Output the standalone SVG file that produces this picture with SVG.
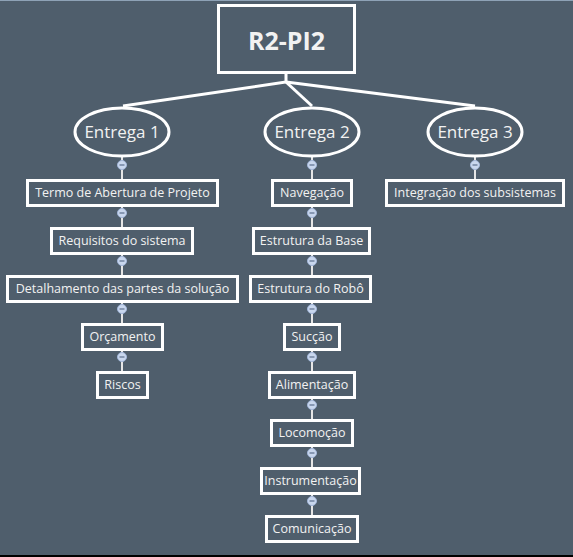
<svg xmlns="http://www.w3.org/2000/svg" width="573" height="557" viewBox="0 0 573 557">
<style>
.bg{fill:#4f5e6c}
.box{fill:#4f5e6c;stroke:#ffffff;stroke-width:3}
.ell{fill:#4f5e6c;stroke:#ffffff;stroke-width:3}
.t{font-family:"Open Sans","Noto Sans","DejaVu Sans",sans-serif;font-size:12.5px;fill:#f2f2f2;text-anchor:middle}
.e{font-family:"Open Sans","Noto Sans","DejaVu Sans",sans-serif;font-size:17px;fill:#f2f2f2;text-anchor:middle}
.root{font-family:"Open Sans","Noto Sans","DejaVu Sans",sans-serif;font-size:25px;font-weight:bold;fill:#f2f2f2;text-anchor:middle}
.main{fill:none;stroke:#ffffff;stroke-width:3}
.sub{fill:none;stroke:#e6e6e6;stroke-width:2}
.tog{fill:#c9d7ee;stroke:#a3b7da;stroke-width:1}
.minus{stroke:#5d6f8e;stroke-width:1.2}
</style>
<defs>
<g id="toggle"><circle class="tog" cx="0" cy="0" r="4.5"/><line class="minus" x1="-2.5" y1="0" x2="2.5" y2="0"/></g>
</defs>
<rect class="bg" x="0" y="0" width="573" height="557"/>
<rect x="0" y="0" width="573" height="1" fill="#8ea2b6"/>
<rect x="0" y="555" width="573" height="2" fill="#000000"/>

<g id="connectors">
<polyline class="main" points="286,72 286,82 123,106"/>
<polyline class="main" points="286,82 312,106"/>
<polyline class="main" points="286,82 475,106"/>
<line class="sub" x1="122" y1="156" x2="122" y2="372"/>
<line class="sub" x1="312" y1="156" x2="312" y2="516"/>
<line class="sub" x1="475" y1="156" x2="475" y2="180"/>
</g>

<g id="root"><rect class="box" x="218.5" y="5.5" width="136" height="67"/><text class="root" x="286.5" y="50">R2-PI2</text></g>

<g id="entrega1"><ellipse class="ell" cx="122" cy="132" rx="47" ry="24"/><text class="e" x="122" y="138">Entrega 1</text></g>
<g id="entrega2"><ellipse class="ell" cx="312" cy="132" rx="47" ry="24"/><text class="e" x="312" y="138">Entrega 2</text></g>
<g id="entrega3"><ellipse class="ell" cx="475" cy="132" rx="47" ry="24"/><text class="e" x="475" y="138">Entrega 3</text></g>

<g id="termo"><rect class="box" x="27.5" y="180.5" width="190" height="25"/><text class="t" x="122.5" y="197">Termo de Abertura de Projeto</text></g>
<g id="requisitos"><rect class="box" x="51.5" y="228.5" width="141" height="25"/><text class="t" x="122" y="245">Requisitos do sistema</text></g>
<g id="detalhamento"><rect class="box" x="7.5" y="276.5" width="230" height="25"/><text class="t" x="122.5" y="293">Detalhamento das partes da solução</text></g>
<g id="orcamento"><rect class="box" x="82.5" y="324.5" width="80" height="25"/><text class="t" x="122.5" y="341">Orçamento</text></g>
<g id="riscos"><rect class="box" x="97.5" y="372.5" width="50" height="25"/><text class="t" x="122.5" y="389">Riscos</text></g>

<g id="navegacao"><rect class="box" x="272.5" y="180.5" width="79" height="25"/><text class="t" x="312" y="197">Navegação</text></g>
<g id="estrutura-base"><rect class="box" x="253.5" y="228.5" width="116" height="25"/><text class="t" x="311.5" y="245">Estrutura da Base</text></g>
<g id="estrutura-robo"><rect class="box" x="250.5" y="276.5" width="120" height="25"/><text class="t" x="310.5" y="293">Estrutura do Robô</text></g>
<g id="succao"><rect class="box" x="284.5" y="324.5" width="55" height="25"/><text class="t" x="312" y="341">Sucção</text></g>
<g id="alimentacao"><rect class="box" x="269.5" y="372.5" width="85" height="25"/><text class="t" x="312" y="389">Alimentação</text></g>
<g id="locomocao"><rect class="box" x="271.5" y="420.5" width="81" height="25"/><text class="t" x="312" y="437">Locomoção</text></g>
<g id="instrumentacao"><rect class="box" x="261.5" y="468.5" width="98" height="25"/><text class="t" x="310.5" y="485">Instrumentação</text></g>
<g id="comunicacao"><rect class="box" x="266.5" y="516.5" width="91" height="25"/><text class="t" x="312" y="533">Comunicação</text></g>

<g id="integracao"><rect class="box" x="386.5" y="180.5" width="177" height="25"/><text class="t" x="475" y="197">Integração dos subsistemas</text></g>

<g id="toggles">
<use href="#toggle" x="122" y="165"/>
<use href="#toggle" x="122" y="213"/>
<use href="#toggle" x="122" y="261"/>
<use href="#toggle" x="122" y="309"/>
<use href="#toggle" x="122" y="357"/>
<use href="#toggle" x="312" y="165"/>
<use href="#toggle" x="312" y="213"/>
<use href="#toggle" x="312" y="261"/>
<use href="#toggle" x="312" y="309"/>
<use href="#toggle" x="312" y="357"/>
<use href="#toggle" x="312" y="405"/>
<use href="#toggle" x="312" y="453"/>
<use href="#toggle" x="312" y="501"/>
<use href="#toggle" x="475" y="165"/>
</g>
</svg>
